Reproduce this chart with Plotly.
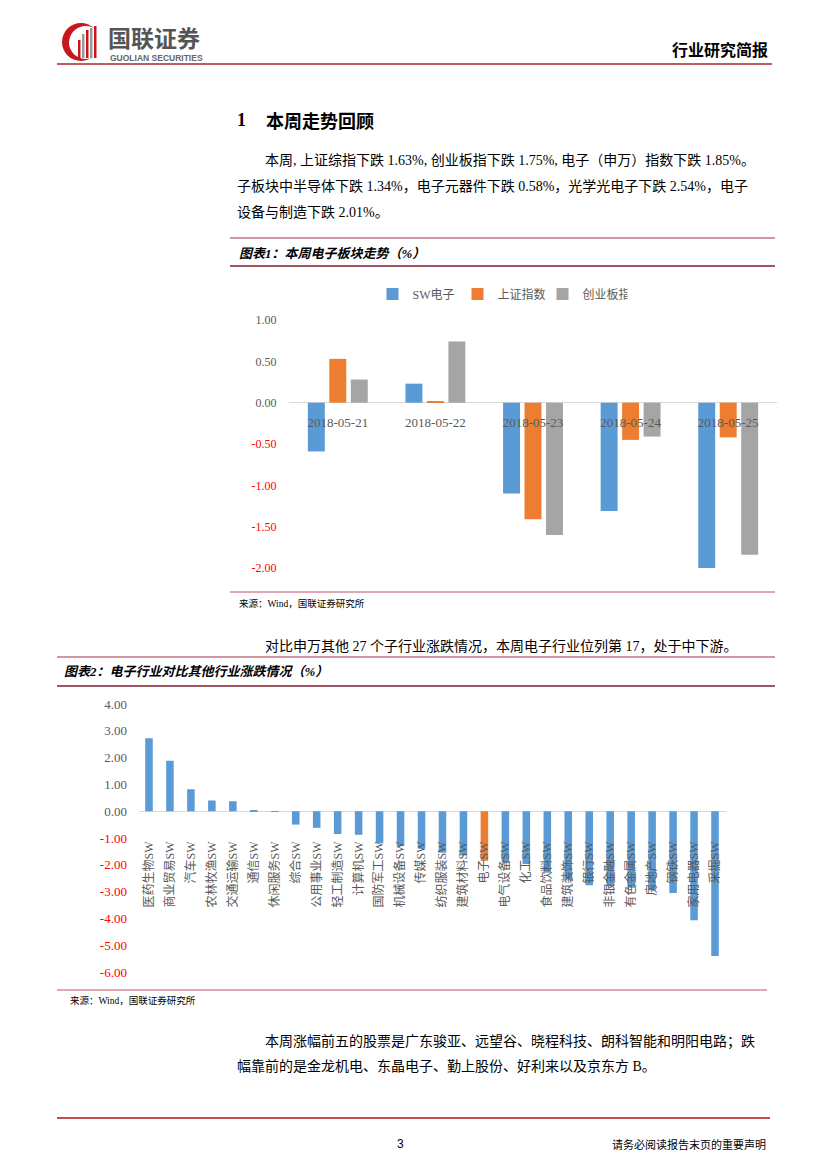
import plotly.graph_objects as go

W, H = 827, 1169

# ---------------- data ----------------
dates = ["2018-05-21", "2018-05-22", "2018-05-23", "2018-05-24", "2018-05-25"]
sw_dianzi = [-0.59, 0.23, -1.10, -1.31, -2.00]
shangzheng = [0.53, 0.02, -1.41, -0.45, -0.42]
chuangye = [0.28, 0.74, -1.60, -0.41, -1.84]
series_names = ["SW电子", "上证指数", "创业板指"]
y1_ticks = [1.0, 0.5, 0.0, -0.5, -1.0, -1.5, -2.0]

industries = ["医药生物SW", "商业贸易SW", "汽车SW", "农林牧渔SW", "交通运输SW", "通信SW",
              "休闲服务SW", "综合SW", "公用事业SW", "轻工制造SW", "计算机SW", "国防军工SW",
              "机械设备SW", "传媒SW", "纺织服装SW", "建筑材料SW", "电子SW", "电气设备SW",
              "化工SW", "食品饮料SW", "建筑装饰SW", "银行SW", "非银金融SW", "有色金属SW",
              "房地产SW", "钢铁SW", "家用电器SW", "采掘SW"]
ind_change = [2.72, 1.88, 0.82, 0.40, 0.37, 0.03,
              -0.02, -0.50, -0.62, -0.85, -0.88, -1.20,
              -1.30, -1.40, -1.55, -1.65, -1.85, -1.90,
              -1.97, -2.30, -2.55, -2.76, -2.80, -2.86,
              -2.95, -3.05, -4.07, -5.40]
highlight = "电子SW"
y2_ticks = [4, 3, 2, 1, 0, -1, -2, -3, -4, -5, -6]

# ---------------- style ----------------
BLUE, ORANGE, GRAY = "#5B9BD5", "#ED7D31", "#A5A5A5"
TXT = "#595959"
RED = "#FF0000"
SERIF = "Liberation Serif, Noto Sans CJK SC, serif"
CJK = "Liberation Serif, Noto Sans CJK SC, sans-serif"


def X(px):
    return px / W


def Y(py):
    return 1 - py / H


def tick_text(v):
    s = f"{v:.2f}"
    return f'<span style="color:{RED}">{s}</span>' if v < 0 else s


fig = go.Figure()

# chart 1
for name, vals, col in zip(series_names, [sw_dianzi, shangzheng, chuangye], [BLUE, ORANGE, GRAY]):
    fig.add_trace(go.Bar(x=dates, y=vals, name=name, marker_color=col,
                         marker_line_width=0, xaxis="x", yaxis="y"))

# chart 2
fig.add_trace(go.Bar(x=industries, y=ind_change, showlegend=False, width=0.36,
                     marker_color=[ORANGE if c == highlight else BLUE for c in industries],
                     marker_line_width=0, xaxis="x2", yaxis="y2"))

y1_range = [-2.024, 1.0]
y1_dom = [Y(570), Y(320)]
y2_range = [-6.0, 4.0]
y2_dom = [Y(972), Y(704)]

fig.update_layout(
    width=W, height=H, margin=dict(l=0, r=0, t=0, b=0, pad=0, autoexpand=False),
    paper_bgcolor="white", plot_bgcolor="rgba(0,0,0,0)",
    barmode="group", bargap=0.34, bargroupgap=0.21,
    font=dict(family=CJK, color=TXT),
    showlegend=True,
    legend=dict(orientation="h", x=X(500), y=Y(294), xanchor="center", yanchor="middle",
                font=dict(size=12, color=TXT, family=CJK), itemwidth=30,
                entrywidth=40, entrywidthmode="pixels", tracegroupgap=0,
                bgcolor="rgba(0,0,0,0)"),
    xaxis=dict(type="category", domain=[X(289), X(777)], anchor="free", position=Y(413),
               showline=False, showgrid=False, ticks="", zeroline=False, automargin=False,
               tickfont=dict(size=13, family=SERIF, color=TXT)),
    yaxis=dict(domain=y1_dom, range=y1_range, showgrid=False, showline=False, automargin=False,
               zeroline=True, zerolinecolor="#D9D9D9", zerolinewidth=1,
               tickvals=y1_ticks, ticktext=[tick_text(v) for v in y1_ticks],
               ticks="outside", ticklen=9, tickcolor="rgba(0,0,0,0)",
               tickfont=dict(size=12, family=SERIF, color=TXT)),
    xaxis2=dict(type="category", domain=[X(138.5), X(725.5)], anchor="free", position=Y(838),
                showline=False, showgrid=False, ticks="", zeroline=False, automargin=False,
                tickangle=-90, tickfont=dict(size=12, family=CJK, color=TXT)),
    yaxis2=dict(domain=y2_dom, range=y2_range, anchor="x2", showgrid=False, showline=False,
                automargin=False, zeroline=True, zerolinecolor="#D9D9D9", zerolinewidth=1,
                tickvals=y2_ticks, ticktext=[tick_text(v) for v in y2_ticks],
                ticks="outside", ticklen=8, tickcolor="rgba(0,0,0,0)",
                tickfont=dict(size=13, family=SERIF, color=TXT)),
)


def hline(y, x0, x1, color, w=1.0):
    fig.add_shape(type="line", xref="paper", yref="paper", x0=X(x0), x1=X(x1),
                  y0=Y(y), y1=Y(y), line=dict(color=color, width=w))


def text(x, y, s, size, color="#000000", anchor="left", family=CJK):
    fig.add_annotation(xref="paper", yref="paper", x=X(x), y=Y(y), text=s, showarrow=False,
                       xanchor=anchor, yanchor="middle",
                       font=dict(size=size, color=color, family=family))


# header
hline(64, 57, 772, "#B3202C", 1.6)
fig.add_shape(type="circle", xref="paper", yref="paper", x0=X(62), x1=X(100), y0=Y(61), y1=Y(23),
              fillcolor="#C8161D", line_width=0)
fig.add_shape(type="circle", xref="paper", yref="paper", x0=X(69), x1=X(103), y0=Y(59), y1=Y(26),
              fillcolor="white", line_width=0)
for (x0, top, col) in [(78, 40, "#C8161D"), (82, 34, "#9A9A9A"), (86, 30, "#C8161D"),
                       (90, 28, "#9A9A9A"), (94, 26, "#C8161D")]:
    fig.add_shape(type="rect", xref="paper", yref="paper", x0=X(x0), x1=X(x0 + 2.5),
                  y0=Y(58), y1=Y(top), fillcolor=col, line_width=0)
text(106, 37, "<b>国联证券</b>", 23, "#555555", family="Noto Sans CJK SC")
text(108, 58, "<b>GUOLIAN SECURITIES</b>", 8.5, "#666666", family="Liberation Sans")
text(770, 49, "<b>行业研究简报</b>", 16, "#000000", anchor="right", family="Noto Sans CJK SC")

# section heading
text(235, 120, "<b>1</b>", 18, "#000000", family=SERIF)
text(264, 120, "<b>本周走势回顾</b>", 18, "#000000", family="Noto Sans CJK SC")

text(263, 161, "本周, 上证综指下跌 1.63%, 创业板指下跌 1.75%, 电子（申万）指数下跌 1.85%。", 14, "#000000")
text(235, 186, "子板块中半导体下跌 1.34%，电子元器件下跌 0.58%，光学光电子下跌 2.54%，电子", 14, "#000000")
text(235, 212, "设备与制造下跌 2.01%。", 14, "#000000")

# chart 1 frame
hline(238, 230, 775, "#A23149", 1)
text(237, 253, "<b><i>图表1：本周电子板块走势（%）</i></b>", 13, "#000000")
hline(266, 230, 775, "#7F1F33", 1.3)
hline(592, 230, 775, "#C0506A", 1)
text(237, 603, "来源：Wind，国联证券研究所", 9.5, "#000000")

text(263, 646, "对比申万其他 27 个子行业涨跌情况，本周电子行业位列第 17，处于中下游。", 14, "#000000")

# chart 2 frame
hline(657, 57, 775, "#A23149", 1)
text(62, 671, "<b><i>图表2：电子行业对比其他行业涨跌情况（%）</i></b>", 13, "#000000")
hline(686, 57, 775, "#7F1F33", 1.3)
hline(990, 57, 767, "#C0506A", 1)
text(68, 1000, "来源：Wind，国联证券研究所", 9.5, "#000000")

text(263, 1041, "本周涨幅前五的股票是广东骏亚、远望谷、晓程科技、朗科智能和明阳电路；跌", 14, "#000000")
text(235, 1066, "幅靠前的是金龙机电、东晶电子、勤上股份、好利来以及京东方 B。", 14, "#000000")

# footer
hline(1118, 57, 770, "#C0504D", 2.2)
text(400, 1144, "3", 12, "#000000", anchor="center", family="Liberation Sans")
text(768, 1144, "请务必阅读报告末页的重要声明", 11, "#000000", anchor="right")

fig.write_html("out.html", config={"displayModeBar": False},
               post_script="document.body.style.margin='0';document.body.style.overflow='hidden';")
